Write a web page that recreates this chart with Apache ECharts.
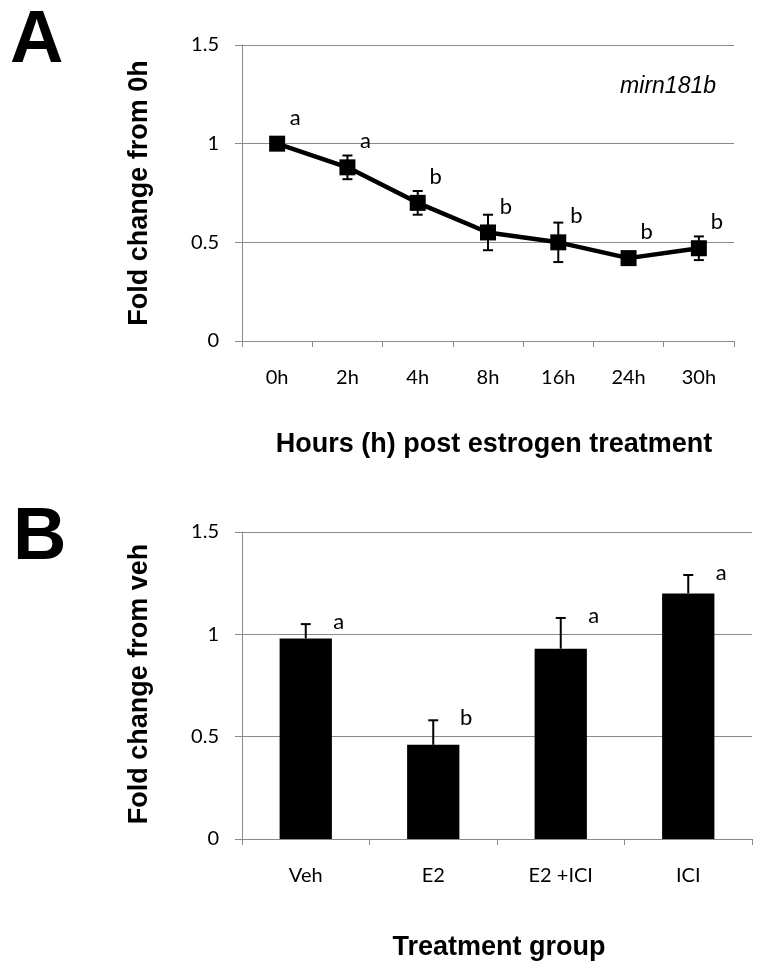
<!DOCTYPE html>
<html>
<head>
<meta charset="utf-8">
<script src="https://cdn.jsdelivr.net/npm/echarts@6/dist/echarts.min.js"></script>
<style>
html,body{margin:0;padding:0;background:#fff;}
#c{width:764px;height:974px;}
</style>
</head>
<body>
<div id="c"></div>
<script>
// ---- data ----
const hoursCats = ['0h', '2h', '4h', '8h', '16h', '24h', '30h'];
const hoursMean = [1.00, 0.88, 0.70, 0.55, 0.50, 0.42, 0.47];
const hoursErr = [0.00, 0.06, 0.06, 0.09, 0.10, 0.015, 0.06];
const hoursLetters = ['a', 'a', 'b', 'b', 'b', 'b', 'b'];

const groupCats = ['Veh', 'E2', 'E2 +ICI', 'ICI'];
const groupMean = [0.98, 0.46, 0.93, 1.20];
const groupErr = [0.07, 0.12, 0.15, 0.09];
const groupLetters = ['a', 'b', 'a', 'a'];

const yMin = 0, yMax = 1.5, yStep = 0.5;

// ---- styles ----
const GRAY = '#8a8a8a';
const LBL = 'Lato';
const BOLD = 'bold 27px "Liberation Sans", Arial, sans-serif';

const chart = echarts.init(document.getElementById('c'), null, {renderer: 'canvas'});

function yAxisCfg(gi) {
  return {
    type: 'value', gridIndex: gi, min: yMin, max: yMax, interval: yStep,
    axisLine: {show: true, lineStyle: {color: GRAY, width: 1}},
    axisTick: {show: true, length: 7, lineStyle: {color: GRAY}},
    splitLine: {show: true, lineStyle: {color: GRAY, width: 1}},
    axisLabel: {color: '#000', fontFamily: LBL, fontSize: 20, margin: 23}
  };
}
function xAxisCfg(gi, cats) {
  return {
    type: 'category', gridIndex: gi, data: cats, boundaryGap: true,
    axisLine: {show: true, lineStyle: {color: GRAY, width: 1}},
    axisTick: {show: true, length: 6, alignWithLabel: false, lineStyle: {color: GRAY}},
    axisLabel: {color: '#000', fontFamily: LBL, fontSize: 20, margin: 27}
  };
}

function errRender(symmetric, capHalf) {
  return function (params, api) {
    const i = api.value(0), m = api.value(1), e = api.value(2);
    if (!e) return null;
    const top = api.coord([i, m + e]);
    const bot = symmetric ? api.coord([i, m - e]) : api.coord([i, m]);
    const st = {stroke: '#000', lineWidth: 2};
    const ch = [
      {type: 'line', shape: {x1: top[0], y1: top[1], x2: bot[0], y2: bot[1]}, style: st},
      {type: 'line', shape: {x1: top[0] - capHalf, y1: top[1], x2: top[0] + capHalf, y2: top[1]}, style: st}
    ];
    if (symmetric) ch.push({type: 'line', shape: {x1: bot[0] - capHalf, y1: bot[1], x2: bot[0] + capHalf, y2: bot[1]}, style: st});
    return {type: 'group', children: ch};
  };
}
function letterRender(letters, dx, dy, withErr) {
  return function (params, api) {
    const i = api.value(0), m = api.value(1), e = api.value(2);
    const p = api.coord([i, withErr ? m + e : m]);
    return {
      type: 'text', x: p[0] + dx, y: p[1] + dy,
      style: {text: letters[params.dataIndex], fill: '#000', font: '22px Lato, sans-serif', align: 'center', verticalAlign: 'middle'}
    };
  };
}

const aData = hoursMean.map((m, i) => [i, m, hoursErr[i]]);
const bData = groupMean.map((m, i) => [i, m, groupErr[i]]);

chart.setOption({
  animation: false,
  backgroundColor: '#fff',
  grid: [
    {left: 242, right: 30, top: 45, height: 296},
    {left: 242, right: 12, top: 532, height: 307}
  ],
  xAxis: [xAxisCfg(0, hoursCats), xAxisCfg(1, groupCats)],
  yAxis: [yAxisCfg(0), yAxisCfg(1)],
  series: [
    {
      type: 'custom', xAxisIndex: 0, yAxisIndex: 0, data: aData,
      encode: {x: 0, y: 1}, renderItem: errRender(true, 5), z: 3
    },
    {
      type: 'line', xAxisIndex: 0, yAxisIndex: 0, data: hoursMean,
      lineStyle: {color: '#000', width: 4.5}, itemStyle: {color: '#000'},
      symbol: 'rect', symbolSize: 16, z: 4
    },
    {
      type: 'custom', xAxisIndex: 0, yAxisIndex: 0, data: aData,
      encode: {x: 0, y: 1}, renderItem: letterRender(hoursLetters, 18, -26, false), z: 5
    },
    {
      type: 'bar', xAxisIndex: 1, yAxisIndex: 1, data: groupMean,
      barWidth: '41%', itemStyle: {color: '#000'}, z: 2
    },
    {
      type: 'custom', xAxisIndex: 1, yAxisIndex: 1, data: bData,
      encode: {x: 0, y: 1}, renderItem: errRender(false, 5), z: 3
    },
    {
      type: 'custom', xAxisIndex: 1, yAxisIndex: 1, data: bData,
      encode: {x: 0, y: 1}, renderItem: letterRender(groupLetters, 33, -2, true), z: 5
    }
  ],
  graphic: [
    {type: 'text', left: 10, top: 5, style: {text: 'A', font: 'bold 74px "Liberation Sans", Arial, sans-serif', fill: '#000'}},
    {type: 'text', left: 13, top: 502, style: {text: 'B', font: 'bold 74px "Liberation Sans", Arial, sans-serif', fill: '#000'}},
    {type: 'text', x: 140, y: 193, rotation: Math.PI / 2, style: {text: 'Fold change from 0h', font: BOLD, fill: '#000', align: 'center', verticalAlign: 'middle'}},
    {type: 'text', x: 140, y: 684, rotation: Math.PI / 2, style: {text: 'Fold change from veh', font: BOLD, fill: '#000', align: 'center', verticalAlign: 'middle'}},
    {type: 'text', x: 494, y: 445, style: {text: 'Hours (h) post estrogen treatment', font: BOLD, fill: '#000', align: 'center', verticalAlign: 'middle'}},
    {type: 'text', x: 499, y: 948, style: {text: 'Treatment group', font: BOLD, fill: '#000', align: 'center', verticalAlign: 'middle'}},
    {type: 'text', x: 716, y: 75, style: {text: 'mirn181b', font: 'italic 23px "Liberation Sans", Arial, sans-serif', fill: '#000', align: 'right', verticalAlign: 'alphabetic'}}
  ]
});
</script>
</body>
</html>
